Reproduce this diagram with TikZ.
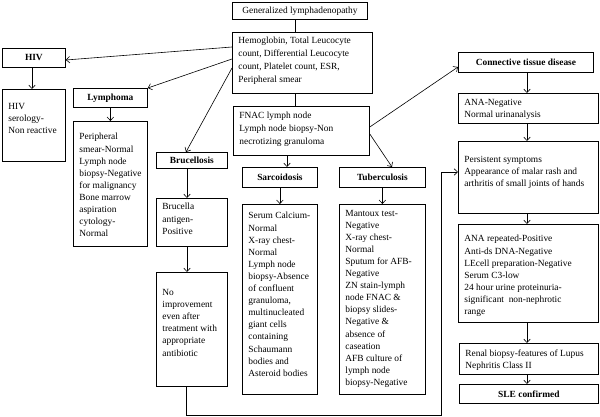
\documentclass[tikz,border=0pt]{standalone}
\usepackage{fontspec}
\setmainfont{Liberation Serif}
\usetikzlibrary{arrows.meta}
\newcommand\fs{\fontsize{9.4}{12.1}\selectfont}
\tikzset{
  box/.style={draw, line width=0.8pt, inner sep=0pt, anchor=north west},
  arr/.style={-{Straight Barb[length=3.5pt,width=6.5pt]}, line width=0.6pt},
  lnk/.style={line width=0.6pt}
}
% #1 name, #2 x1, #3 y1, #4 x2, #5 y2, #6 top space, #7 text
\newcommand\txtbox[7]{\node[box, font=\fs, minimum width=#4pt-#2pt, minimum height=#5pt-#3pt] (#1) at (#2,#3)
  {\parbox[c][\dimexpr #5pt-#3pt-10pt\relax][t]{\dimexpr #4pt-#2pt-12pt\relax}{\raggedright\hyphenpenalty=10000 \exhyphenpenalty=10000 \hbadness=10000 \hfuzz=20pt \vspace*{#6pt}#7}};}
% single-line box: [#1 font], #2 name, #3 x1, #4 y1, #5 x2, #6 y2, #7 text
\newcommand\onebox[7][]{\node[box, font=\fs#1, minimum width=#5pt-#3pt, minimum height=#6pt-#4pt] (#2) at (#3,#4) {#7};}
\begin{document}
\begin{tikzpicture}[x=1pt,y=-1pt]
\useasboundingbox (0,0) rectangle (600,417);

\onebox{gen}{232}{2}{367}{19}{Generalized lymphadenopathy}
\txtbox{hb}{232}{32}{372}{93}{0}{\baselineskip=13pt Hemoglobin, Total Leucocyte\\count, Differential Leucocyte\\count,\ Platelet\ count,\ ESR,\\Peripheral smear}
\txtbox{fnac}{233}{106}{369}{155}{1}{\baselineskip=13pt FNAC lymph node\\Lymph node biopsy-Non\\necrotizing granuloma}

\onebox[\bfseries]{hiv}{2}{48}{65}{67}{HIV}
\txtbox{hivs}{2}{89}{65}{161}{9}{HIV\\serology-\\Non reactive}

\onebox[\bfseries]{lym}{73}{88}{147}{107}{Lymphoma}
\txtbox{lymd}{73}{121}{147}{246}{7}{Peripheral\\smear-Normal\\Lymph node\\biopsy-Negative\\for malignancy\\Bone marrow\\aspiration\\cytology-\\Normal}

\onebox[\bfseries]{bru}{156}{152}{227}{168}{Brucellosis}
\txtbox{brucag}{156}{198}{227}{246}{0}{Brucella\\antigen-\\Positive}
\txtbox{noimp}{156}{272}{227}{386}{12}{No\\improvement\\even after\\treatment with\\appropriate\\antibiotic}

\onebox[\bfseries]{sarc}{242}{167}{317}{187}{Sarcoidosis}
\txtbox{sarcd}{242}{204}{317}{394}{3}{Serum Calcium-\\Normal\\X-ray chest-\\Normal\\Lymph node\\biopsy-Absence\\of confluent\\granuloma,\\multinucleated\\giant cells\\containing\\Schaumann\\bodies and\\Asteroid bodies}

\onebox[\bfseries]{tb}{339}{167}{425}{187}{Tuberculosis}
\txtbox{tbd}{339}{204}{425}{394}{0.5}{Mantoux test-\\Negative\\X-ray chest-\\Normal\\Sputum for AFB-\\Negative\\ZN stain-lymph\\node FNAC \&\\biopsy slides-\\Negative \&\\absence of\\caseation\\AFB culture of\\lymph node\\biopsy-Negative}

\onebox[\bfseries]{ctd}{458}{52}{593}{72}{Connective tissue disease}
\txtbox{ananeg}{458}{93}{598}{123}{1}{ANA-Negative\\Normal urinanalysis}
\txtbox{persist}{458}{141}{598}{213}{10}{Persistent symptoms\\Appearance of malar rash and\\arthritis of small joints of hands}
\txtbox{anarep}{458}{224}{598}{322}{6}{ANA repeated-Positive\\Anti-ds DNA-Negative\\LEcell preparation-Negative\\Serum C3-low\\24 hour urine proteinuria-\\significant\ \ non-nephrotic\\range}
\txtbox{renal}{459}{343}{598}{374}{1}{Renal biopsy-features of Lupus\\Nephritis Class II}
\onebox[\bfseries]{sle}{459}{384}{598}{403}{SLE confirmed}

\coordinate (c1) at (441,415);

% connectors
\draw[lnk] (gen.south -| 295,0) -- (hb.north -| 295,0);
\draw[lnk] (hb.south -| 295,0) -- (fnac.north -| 295,0);
\draw[arr] (hb.west |- 0,47) -- (hiv.east |- 0,60);
\draw[arr] (hb.west |- 0,59) -- (lym.north east);
\draw[arr] (hb.west |- 0,68) -- (bru.north -| 186,0);
\draw[arr] (hiv.south -| 32,0) -- (hivs.north -| 32,0);
\draw[arr] (lym.south) -- (lymd.north);
\draw[arr] (bru.south -| 187,0) -- (brucag.north -| 187,0);
\draw[arr] (brucag.south -| 187,0) -- (noimp.north -| 187,0);
\draw[arr] (fnac.south -| 287,0) -- (sarc.north -| 287,0);
\draw[arr] (fnac.east |- 0,134) -- (tb.north -| 392,0);
\draw[arr] (fnac.east |- 0,127) -- (ctd.west |- 0,67);
\draw[arr] (sarc.south) -- (sarcd.north);
\draw[arr] (tb.south) -- (tbd.north);
\draw[arr] (ctd.south -| 527,0) -- (ananeg.north -| 527,0);
\draw[arr] (ananeg.south -| 527,0) -- (persist.north -| 527,0);
\draw[arr] (persist.south -| 527,0) -- (anarep.north -| 527,0);
\draw[arr] (anarep.south -| 527,0) -- (renal.north -| 527,0);
\draw[arr] (renal.south -| 527,0) -- (sle.north -| 527,0);
\draw[arr] (noimp.south -| 186,0) |- (c1) |- (persist.west |- 0,172);
\end{tikzpicture}
\end{document}
